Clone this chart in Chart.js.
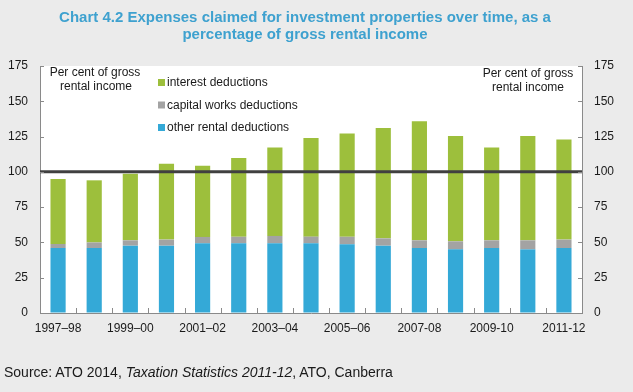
<!DOCTYPE html>
<html>
<head>
<meta charset="utf-8">
<script src="https://cdn.jsdelivr.net/npm/chart.js@4/dist/chart.umd.min.js"></script>
<style>
  body { margin: 0; background: #ebebeb; font-family: "Liberation Sans", Arial, sans-serif; }
  #wrap { position: relative; width: 633px; height: 392px; }
  #title {
    position: absolute; left: 0; top: 8px; width: 610px;
    text-align: center; color: #3ea1cf; font-weight: bold; font-size: 15px; line-height: 17px;
  }
  #source { position: absolute; left: 4px; top: 364px; font-size: 14px; line-height: 16px; color: #1a1a1a; }
  canvas { position: absolute; left: 0; top: 0; }
</style>
</head>
<body>
<div id="wrap">
  <canvas id="chart" width="633" height="392"></canvas>
  <div id="title">Chart 4.2 Expenses claimed for investment properties over time, as a<br>percentage of gross rental income</div>
  <div id="source">Source: ATO 2014, <i>Taxation Statistics 2011-12</i>, ATO, Canberra</div>
</div>
<script>
const years = ["1997–98", "1998–99", "1999–00", "2000–01", "2001–02", "2002–03", "2003–04",
  "2004–05", "2005–06", "2006–07", "2007-08", "2008-09", "2009-10", "2010-11", "2011-12"];
const tickLabels = ["1997–98", "1999–00", "2001–02", "2003–04", "2005–06", "2007-08", "2009-10", "2011-12"];
const otherRental = [46, 46, 47.7, 47.7, 49.4, 49.4, 49.4, 49.4, 48.7, 47.7, 46, 45.1, 46, 45.1, 46];
const capitalWorks = [2.9, 4, 3.8, 4.3, 4.5, 4.6, 5.2, 4.7, 5.3, 5.2, 5.5, 5.7, 5.5, 6.4, 6];
const interest = [46, 44, 47.2, 53.8, 50.5, 55.8, 62.6, 69.8, 73.1, 78.2, 84.3, 74.6, 65.7, 73.9, 70.9];
const yTicks = [0, 25, 50, 75, 100, 125, 150, 175];
const refLine = 100;

const GREEN = "#9dbf3c", GREY = "#a3a3a3", BLUE = "#34a9d7";
const TEXT = "#1a1a1a", AXIS = "#8a8a8a";
const FONT = '"Liberation Sans", Arial, sans-serif';

// white plot area, 100 line, inward tick marks, legend and axis notes
const decor = {
  id: "decor",
  beforeDraw(chart) {
    const { ctx, chartArea: a } = chart;
    ctx.save();
    ctx.fillStyle = "#ffffff";
    ctx.fillRect(a.left, a.top, a.right - a.left, a.bottom - a.top);
    ctx.restore();
  },
  afterDatasetsDraw(chart) {
    const { ctx, chartArea: a, scales } = chart;
    const y = scales.y.getPixelForValue(refLine);
    ctx.save();
    ctx.strokeStyle = "#404040";
    ctx.lineWidth = 3;
    ctx.beginPath();
    ctx.moveTo(a.left, y);
    ctx.lineTo(a.right, y);
    ctx.stroke();
    ctx.restore();
  },
  afterDraw(chart) {
    const { ctx, chartArea: a, scales } = chart;
    ctx.save();
    ctx.strokeStyle = AXIS;
    ctx.lineWidth = 1;
    ctx.beginPath();
    yTicks.forEach((v) => {
      const y = Math.round(scales.y.getPixelForValue(v)) + 0.5;
      ctx.moveTo(a.left, y); ctx.lineTo(a.left + 4, y);
      ctx.moveTo(a.right, y); ctx.lineTo(a.right - 4, y);
    });
    const n = years.length;
    for (let i = 1; i < n; i++) {
      const x = Math.round(a.left + (i * (a.right - a.left)) / n) + 0.5;
      ctx.moveTo(x, a.bottom); ctx.lineTo(x, a.bottom - 5);
    }
    ctx.stroke();

    ctx.font = "12px " + FONT;
    ctx.fillStyle = TEXT;
    ctx.textAlign = "center";
    ctx.textBaseline = "middle";
    ctx.fillText("Per cent of gross", a.left + 55, a.top + 7);
    ctx.fillText("rental income", a.left + 56, a.top + 21);
    ctx.fillText("Per cent of gross", a.right - 54, a.top + 8);
    ctx.fillText("rental income", a.right - 54, a.top + 22);

    // legend, top to bottom
    const items = [...chart.data.datasets].reverse();
    ctx.textAlign = "left";
    items.forEach((ds, i) => {
      const cy = a.top + 17 + i * 22.5;
      ctx.fillStyle = ds.backgroundColor;
      ctx.fillRect(a.left + 118, cy - 4, 7, 7);
      ctx.fillStyle = TEXT;
      ctx.fillText(ds.label, a.left + 127, cy);
    });
    ctx.restore();
  },
};

const yAxis = (position, width) => ({
  position,
  stacked: true,
  min: 0,
  max: 175,
  afterBuildTicks: (s) => { s.ticks = yTicks.map((v) => ({ value: v })); },
  afterFit: (s) => { s.width = width; },
  grid: { display: true, drawOnChartArea: false, drawTicks: false },
  border: { display: true, color: AXIS },
  ticks: { color: TEXT, font: { size: 12, family: FONT }, padding: 12 },
});

new Chart(document.getElementById("chart"), {
  type: "bar",
  data: {
    labels: years,
    datasets: [
      { label: "other rental deductions", data: otherRental, backgroundColor: BLUE },
      { label: "capital works deductions", data: capitalWorks, backgroundColor: GREY },
      { label: "interest deductions", data: interest, backgroundColor: GREEN },
    ],
  },
  options: {
    responsive: false,
    animation: false,
    layout: { padding: { top: 66, bottom: 49, left: 0, right: 0 } },
    datasets: { bar: { barPercentage: 0.42, categoryPercentage: 1 } },
    plugins: { legend: { display: false }, tooltip: { enabled: false } },
    scales: {
      x: {
        stacked: true,
        afterFit: (s) => { s.height = 30; },
        grid: { display: true, drawOnChartArea: false, drawTicks: false },
        border: { display: true, color: AXIS },
        ticks: {
          autoSkip: false,
          maxRotation: 0,
          padding: 8,
          color: TEXT,
          font: { size: 12, family: FONT },
          callback: (v, i) => (i % 2 === 0 ? tickLabels[i / 2] : ""),
        },
      },
      y: yAxis("left", 40),
      y2: Object.assign(yAxis("right", 51), { stacked: false }),
    },
  },
  plugins: [decor],
});
</script>
</body>
</html>
